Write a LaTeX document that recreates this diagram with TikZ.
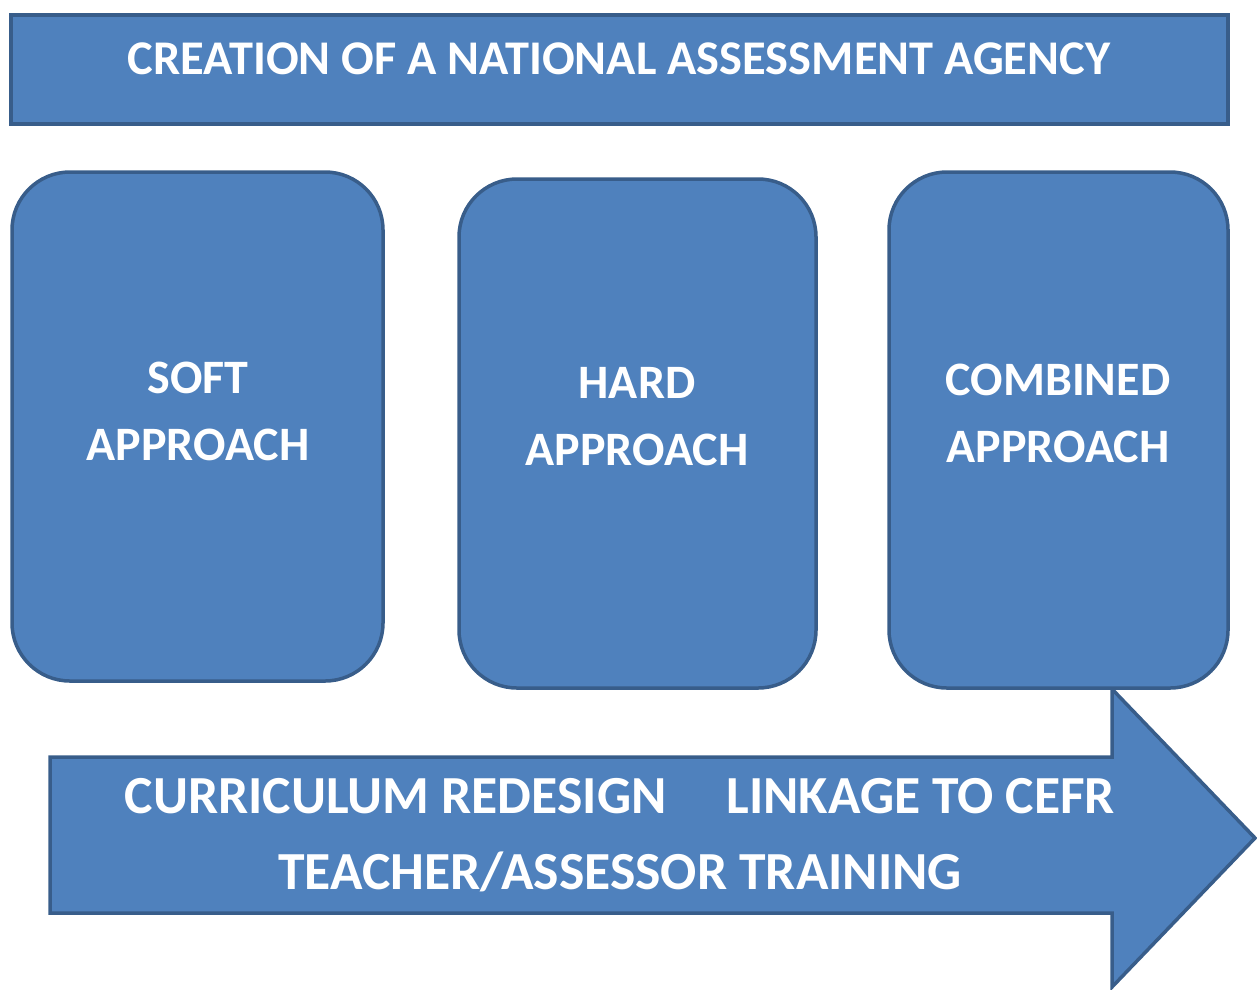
\documentclass[tikz,border=0pt]{standalone}
\usepackage{fontspec}
\setmainfont{Carlito}
\definecolor{fillblue}{HTML}{4F81BD}
\definecolor{edgeblue}{HTML}{385D8A}
\begin{document}
\begin{tikzpicture}[x=1pt,y=-1pt,
  shape style/.style={fill=fillblue,draw=edgeblue,line width=3.5pt,line join=miter},
  lbl/.style={text=white,font=\bfseries,align=center,inner sep=0pt}]
\useasboundingbox (0,0) rectangle (1257,989);
% bottom arrow
\draw[shape style] (50,757) -- (1112,757) -- (1112,689) -- (1255,838) -- (1112,987) -- (1112,913) -- (50,913) -- cycle;
% top bar
\draw[shape style] (11,15) rectangle (1228,124);
\node[lbl,font=\bfseries\fontsize{48.4}{50}\selectfont] (title) at (619,59) {CREATION OF A NATIONAL ASSESSMENT AGENCY};
% boxes
\draw[shape style,rounded corners=58pt] (12,172) rectangle (383,681);
\draw[shape style,rounded corners=58pt] (459,179) rectangle (816,688);
\draw[shape style,rounded corners=58pt] (889,172) rectangle (1228,688);
\node[lbl,font=\bfseries\fontsize{48}{67}\selectfont] (soft) at (198,411) {SOFT\\APPROACH};
\node[lbl,font=\bfseries\fontsize{48}{67}\selectfont] (hard) at (637,417) {HARD\\APPROACH};
\node[lbl,font=\bfseries\fontsize{48}{67}\selectfont] (comb) at (1058,413) {COMBINED\\APPROACH};
\node[lbl,font=\bfseries\fontsize{53.6}{76}\selectfont] (arrowtext) at (620,835) {CURRICULUM REDESIGN\hspace{60pt}LINKAGE TO CEFR\\TEACHER/ASSESSOR TRAINING};
\end{tikzpicture}
\end{document}
